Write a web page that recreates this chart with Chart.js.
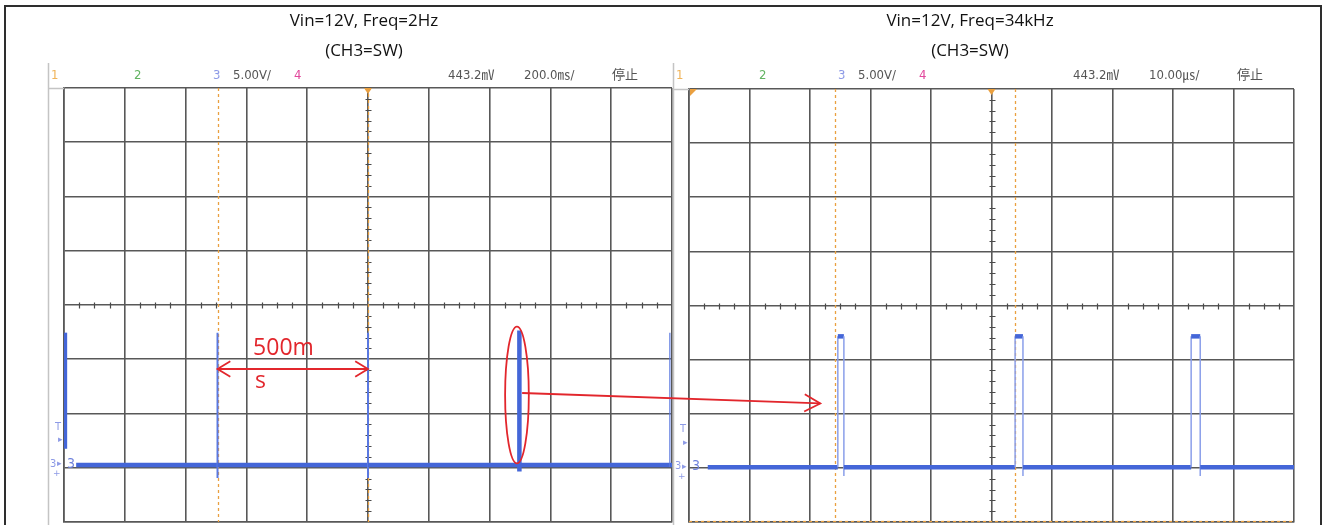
<!DOCTYPE html>
<html><head><meta charset="utf-8">
<script src="https://cdn.jsdelivr.net/npm/chart.js@4.4.1/dist/chart.umd.min.js"></script>
<style>
html,body{margin:0;padding:0;background:#fff;}
#wrap{position:relative;width:1324px;height:525px;overflow:hidden;background:#fff;}
#frame{position:absolute;left:4px;top:5px;width:1318px;height:560px;border:2px solid #2e2e2e;box-sizing:border-box;}
canvas{position:absolute;left:0;top:0;}
</style></head><body>
<div id="wrap"><div id="frame"></div>
<canvas id="left" width="1324" height="525"></canvas>
<canvas id="right" width="1324" height="525"></canvas>
</div>
<script>
// ---------------- data ----------------
const titlesLeft  = ['Vin=12V, Freq=2Hz', '(CH3=SW)'];
const titlesRight = ['Vin=12V, Freq=34kHz', '(CH3=SW)'];
const headerLeft  = ['1', '2', '3', '5.00V/', '4', '443.2㎷', '200.0㎳/', '停止'];
const headerRight = ['1', '2', '3', '5.00V/', '4', '443.2㎷', '10.00㎲/', '停止'];

// left scope: time in ms (200 ms/div), CH3 in volts (5 V/div)
const leftTime = [-997, -997, -997, -960, -495, -495, -495, -495, 0, 0, 0, 0, 498, 498, 498, 498, 993, 993, 993, 1000];
const leftVolt = [1.5, 12.2, null, 0, 0, 12.2, -1.2, 0, 0, 12.2, -1.2, 0, 0, 12.4, -0.6, 0, 0, 12.2, 0, 0];
const leftCursorTimes = [-495, 0];

// right scope: time in µs (10 µs/div), CH3 in volts (5 V/div)
const rightTime = [-46.9, -25.4, -25.4, -24.4, -24.4, -24.4, 3.9, 3.9, 5.2, 5.2, 5.2, 33.0, 33.0, 34.5, 34.5, 34.5, 50];
const rightVolt = [0, 0, 12.1, 12.1, -0.8, 0, 0, 12.1, 12.1, -0.8, 0, 0, 12.1, 12.1, -0.8, 0, 0];
const rightCursorTimes = [-25.8, 3.9];
const rightLevelCursors = [-5.0];

// annotations (left: ms / V, right: µs / V)
const periodArrow = [[-495, 8.85], [0, 8.85]];
const periodLabel = ['500m', 's'];
const periodLabelAt = [[-378, 10.1], [-372, 7.1]];
const ellipseCenter = [490, 6.45];
const ellipseRadius = [39, 6.3];
const zoomArrowFrom = [507, 6.64];   // left scope
const zoomArrowTo = [-28.3, 5.9];    // right scope

// ---------------- styles ----------------
const TRACE = '#4466d8', TRACE_THIN = '#8b9fea', GRID = '#585858', MINOR = '#4a4a4a',
      CURSOR = '#eaa040', RED = '#e2262c', PANEL = '#c4c4c4';
const HEADER_DX = [3, 86, 165, 185, 246, 400, 476, 564];
const HEADER_COL = ['#f0b45a', '#63b463', '#8d9ae6', '#555', '#e2479c', '#555', '#555', '#555'];
const LEFT_SPIKE_W = [4.5, 2, 2, 4.5, 1.2];
const HFONT = '"Liberation Sans Narrow","DejaVu Sans Condensed","Noto Sans CJK JP",sans-serif';

function arrowHead(ctx, x1, y1, x2, y2, len, ang) {
  const a = Math.atan2(y2 - y1, x2 - x1);
  ctx.beginPath();
  ctx.moveTo(x2 - len * Math.cos(a - ang), y2 - len * Math.sin(a - ang));
  ctx.lineTo(x2, y2);
  ctx.lineTo(x2 - len * Math.cos(a + ang), y2 - len * Math.sin(a + ang));
  ctx.stroke();
}

function decor(o) {
  return {
    id: 'decor' + o.name,
    beforeDatasetsDraw(chart) {
      const {ctx, chartArea: a, scales: {x, y}} = chart;
      ctx.save();
      // minor ticks on centre lines
      const cy = Math.round(y.getPixelForValue(0)) + 0.5, cx = Math.round(x.getPixelForValue(0)) + 0.5;
      ctx.strokeStyle = MINOR; ctx.lineWidth = 1.2;
      ctx.beginPath();
      for (let k = 1; k < 40; k++) {
        if (k % 4 === 0) continue;
        const px = Math.round(x.getPixelForValue(o.xMin + k * o.xStep / 4)) + 0.5;
        ctx.moveTo(px, cy - 3); ctx.lineTo(px, cy + 3);
      }
      for (let k = 1; k < 40; k++) {
        if (k % 5 === 0) continue;
        const py = Math.round(y.getPixelForValue(-20 + k)) + 0.5;
        ctx.moveTo(cx - 3, py); ctx.lineTo(cx + 3, py);
      }
      ctx.stroke();
      // cursors
      ctx.strokeStyle = CURSOR; ctx.lineWidth = 1.3; ctx.setLineDash([3, 3]);
      o.cursors.forEach(t => {
        const px = Math.round(x.getPixelForValue(t)) + 0.5;
        ctx.beginPath(); ctx.moveTo(px, a.top); ctx.lineTo(px, a.bottom); ctx.stroke();
      });
      (o.levels || []).forEach(v => {
        const py = Math.round(y.getPixelForValue(v + o.offset)) + 0.5;
        ctx.beginPath(); ctx.moveTo(a.left, py); ctx.lineTo(a.right, py); ctx.stroke();
      });
      ctx.restore();
    },
    afterDraw(chart) {
      const {ctx, chartArea: a, scales: {x, y}} = chart;
      ctx.save();
      // panel frame
      ctx.strokeStyle = PANEL; ctx.lineWidth = 1.5;
      ctx.beginPath();
      ctx.moveTo(o.panelLeft + 0.5, 63); ctx.lineTo(o.panelLeft + 0.5, 525);
      ctx.moveTo(o.panelLeft, a.top + 0.5); ctx.lineTo(a.left, a.top + 0.5);
      ctx.stroke();
      // titles
      ctx.fillStyle = '#111';
      ctx.textAlign = 'center'; ctx.textBaseline = 'middle';
      ctx.font = '17px "Open Sans","Noto Sans",sans-serif';
      ctx.fillText(o.titles[0], o.titleX, 21);
      ctx.fillText(o.titles[1], o.titleX, 51);
      // header bar
      ctx.textAlign = 'left';
      ctx.font = '13px ' + HFONT;
      o.header.forEach((s, i) => {
        ctx.fillStyle = HEADER_COL[i];
        ctx.fillText(s, o.panelLeft + HEADER_DX[i], 76);
      });
      // trigger position markers
      ctx.fillStyle = CURSOR;
      const tx = x.getPixelForValue(0);
      ctx.beginPath(); ctx.moveTo(tx - 4, a.top); ctx.lineTo(tx + 4, a.top); ctx.lineTo(tx, a.top + 6); ctx.fill();
      if (o.name === 'R') {
        ctx.beginPath(); ctx.moveTo(a.left + 1, a.top); ctx.lineTo(a.left + 8, a.top); ctx.lineTo(a.left + 1, a.top + 7); ctx.fill();
      }
      // ground / trigger-level markers
      const gy = y.getPixelForValue(o.offset);
      ctx.fillStyle = '#8d9ae6';
      ctx.font = '11px ' + HFONT;
      ctx.fillText('3', o.panelLeft + 2, gy - 1);
      ctx.fillText('T', o.panelLeft + 7, gy - 38);
      ctx.font = '9px "DejaVu Sans",sans-serif';
      ctx.fillText('▸', o.panelLeft + 9, gy - 1);
      ctx.fillText('▸', o.panelLeft + 10, gy - 25);
      ctx.fillText('+', o.panelLeft + 5, gy + 9);
      ctx.fillStyle = '#6f82dc';
      ctx.font = '14px ' + HFONT;
      ctx.fillText('3', a.left + 3, gy - 1);
      // annotations
      ctx.strokeStyle = RED; ctx.fillStyle = RED; ctx.lineWidth = 1.8;
      if (o.name === 'L') {
        const p1 = [x.getPixelForValue(periodArrow[0][0]), y.getPixelForValue(periodArrow[0][1] + o.offset)];
        const p2 = [x.getPixelForValue(periodArrow[1][0]), y.getPixelForValue(periodArrow[1][1] + o.offset)];
        ctx.beginPath(); ctx.moveTo(p1[0], p1[1]); ctx.lineTo(p2[0], p2[1]); ctx.stroke();
        arrowHead(ctx, p2[0], p2[1], p1[0], p1[1], 15, 0.55);
        arrowHead(ctx, p1[0], p1[1], p2[0], p2[1], 15, 0.55);
        ctx.font = '23px "Open Sans","Noto Sans",sans-serif';
        ctx.textBaseline = 'alphabetic'; ctx.textAlign = 'left';
        periodLabel.forEach((s, i) => {
          ctx.fillText(s, x.getPixelForValue(periodLabelAt[i][0]), y.getPixelForValue(periodLabelAt[i][1] + o.offset));
        });
        const ex = x.getPixelForValue(ellipseCenter[0]), ey = y.getPixelForValue(ellipseCenter[1] + o.offset);
        const rx = Math.abs(x.getPixelForValue(ellipseCenter[0] + ellipseRadius[0]) - ex);
        const ry = Math.abs(y.getPixelForValue(ellipseCenter[1] + ellipseRadius[1] + o.offset) - ey);
        ctx.beginPath(); ctx.ellipse(ex, ey, rx, ry, 0, 0, Math.PI * 2); ctx.stroke();
      } else {
        const L = window.leftChart;
        const fx = L.scales.x.getPixelForValue(zoomArrowFrom[0]);
        const fy = L.scales.y.getPixelForValue(zoomArrowFrom[1] + leftOpts.offset);
        const txp = x.getPixelForValue(zoomArrowTo[0]), typ = y.getPixelForValue(zoomArrowTo[1] + o.offset);
        ctx.beginPath(); ctx.moveTo(fx, fy); ctx.lineTo(txp, typ); ctx.stroke();
        arrowHead(ctx, fx, fy, txp, typ, 18, 0.5);
      }
      ctx.restore();
    }
  };
}

function gridOpts() {
  return {color: GRID, lineWidth: 1.6, drawTicks: false};
}

function scopeChart(id, o) {
  const vertical = c => c.p0.parsed.x === c.p1.parsed.x;
  return new Chart(document.getElementById(id), {
    type: 'line',
    data: {datasets: [{
      label: 'CH3 (SW)',
      data: o.time.map((t, i) => ({x: t, y: o.volt[i] === null ? null : o.volt[i] + o.offset})),
      borderColor: TRACE, borderWidth: 4.5, pointRadius: 0, tension: 0, spanGaps: false,
      borderCapStyle: 'butt', borderJoinStyle: 'bevel',
      segment: {
        borderWidth: c => o.segWidth(c, vertical(c)),
        borderColor: c => o.segColor(c, vertical(c))
      }
    }]},
    options: {
      responsive: false, animation: false, events: [],
      layout: {padding: o.pad},
      plugins: {legend: {display: false}, tooltip: {enabled: false}, title: {display: false}},
      scales: {
        x: {type: 'linear', min: o.xMin, max: o.xMax,
            ticks: {display: false, stepSize: o.xStep},
            grid: gridOpts(), border: {display: true, color: GRID, width: 1.6}},
        y: {type: 'linear', min: -20, max: 20,
            ticks: {display: false, stepSize: 5},
            grid: gridOpts(), border: {display: true, color: GRID, width: 1.6}}
      }
    },
    plugins: [decor(o)]
  });
}

const leftSpikes = [...new Set(leftTime.filter((t, i) => i > 0 && leftTime[i - 1] === t))];

const leftOpts = {
  name: 'L', pad: {left: 64, right: 1324 - 672, top: 88, bottom: 3},
  panelLeft: 48, titleX: 364, xMin: -1000, xMax: 1000, xStep: 200, offset: -14.75,
  time: leftTime, volt: leftVolt, cursors: leftCursorTimes, header: headerLeft, titles: titlesLeft,
  segWidth: (c, v) => v ? LEFT_SPIKE_W[leftSpikes.indexOf(c.p0.parsed.x)] : 4.5,
  segColor: (c, v) => (v && LEFT_SPIKE_W[leftSpikes.indexOf(c.p0.parsed.x)] < 2.5) ? '#5a78e0' : TRACE
};
const rightOpts = {
  name: 'R', pad: {left: 689, right: 1324 - 1294, top: 89, bottom: 3},
  panelLeft: 673, titleX: 970, xMin: -50, xMax: 50, xStep: 10, offset: -14.95,
  time: rightTime, volt: rightVolt, cursors: rightCursorTimes, levels: rightLevelCursors,
  header: headerRight, titles: titlesRight,
  segWidth: (c, v) => v ? 1.5 : (c.p0.parsed.y > 0 ? 3 : 4.5),
  segColor: (c, v) => v ? TRACE_THIN : TRACE
};

window.leftChart = scopeChart('left', leftOpts);
window.rightChart = scopeChart('right', rightOpts);
</script>
</body></html>
